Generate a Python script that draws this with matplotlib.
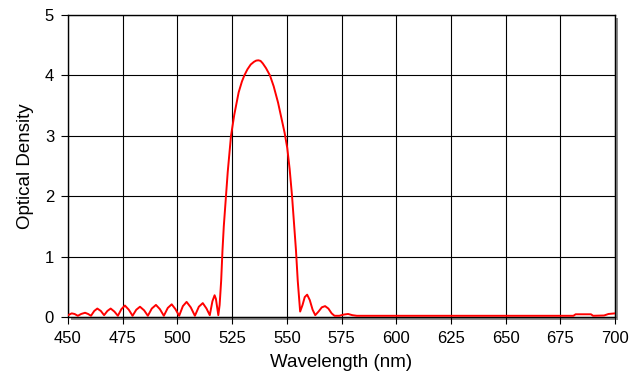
import matplotlib
matplotlib.use("Agg")
import matplotlib.pyplot as plt
from matplotlib.patches import Rectangle
from matplotlib.transforms import ScaledTranslation

plt.rcParams['font.family'] = ['Liberation Sans', 'DejaVu Sans']

# spectrum (nm, optical density)
wavelength = [450, 451.7, 453, 454.5, 456, 457.8, 459.2, 460.5, 462, 463.4,
              465, 466.5, 468, 469.5, 471.2, 472.8, 474.4, 476.0, 477.8, 479.5,
              481.2, 482.9, 484.8, 486.5, 488.3, 490.2, 492.0, 493.8, 495.6, 497.4,
              499.1, 500.8, 502.5, 504.2, 506.1, 508.0, 509.8, 511.6, 513.3, 514.8,
              516.0, 517.0, 517.6, 518.7, 519.3, 520.0, 520.6, 521.2, 522.0, 523.0,
              524.5, 526, 528, 529.5, 530.6, 532, 533.5, 535, 536, 537,
              538, 539, 540.5, 542.3, 544, 546, 547.5, 549, 550.2, 551.3,
              552.4, 553.4, 554.2, 555.0, 556.1,
              557.2, 558.2, 559.3, 560.5, 561.8, 563.0, 564.5, 566.0, 567.5, 569,
              570.5, 571.8, 574, 576, 578, 580, 582, 600, 620, 640,
              660, 681, 682, 689, 690, 695, 697, 700]
optical_density = [0.03, 0.06, 0.05, 0.02, 0.05, 0.07, 0.05, 0.02, 0.10, 0.14,
                   0.10, 0.03, 0.10, 0.14, 0.09, 0.02, 0.13, 0.19, 0.12, 0.02,
                   0.12, 0.17, 0.11, 0.02, 0.14, 0.20, 0.13, 0.02, 0.15, 0.21,
                   0.13, 0.02, 0.18, 0.25, 0.16, 0.02, 0.17, 0.23, 0.14, 0.03,
                   0.26, 0.36, 0.30, 0.03, 0.20, 0.60, 1.10, 1.50, 1.90, 2.40,
                   3.00, 3.35, 3.72, 3.90, 4.00, 4.10, 4.18, 4.225, 4.245, 4.25,
                   4.24, 4.20, 4.12, 4.00, 3.82, 3.55, 3.30, 3.05, 2.80, 2.45,
                   2.00, 1.50, 1.10, 0.60, 0.09,
                   0.20, 0.33, 0.37, 0.28, 0.12, 0.03, 0.09, 0.16, 0.18, 0.14,
                   0.06, 0.02, 0.02, 0.04, 0.05, 0.03, 0.02, 0.02, 0.02, 0.02,
                   0.02, 0.02, 0.045, 0.045, 0.02, 0.025, 0.05, 0.06]

x_ticks = list(range(450, 701, 25))
y_ticks = [0, 1, 2, 3, 4, 5]

fig = plt.figure(figsize=(6.38, 3.86), dpi=100)
ax = fig.add_axes([68 / 638, 1 - 317 / 386, (615 - 68) / 638, (317 - 15) / 386])

# grey drop shadow behind the plot frame
shadow = Rectangle((0, 0), 1, 1, facecolor='#8c8c8c', edgecolor='none', zorder=-1,
                   transform=ax.transAxes + ScaledTranslation(3 / 100, -3 / 100, fig.dpi_scale_trans))
fig.add_artist(shadow)

ax.plot(wavelength, optical_density, color='red', lw=1.4, zorder=3)

ax.set_xlim(450, 700)
ax.set_ylim(0, 5)
ax.set_xticks(x_ticks)
ax.set_yticks(y_ticks)
ax.grid(True, color='black', lw=0.8)
ax.set_axisbelow(True)
ax.tick_params(direction='out', length=5, width=0.8, labelsize=12, pad=5, color='black')
for s in ax.spines.values():
    s.set_color('black')
    s.set_linewidth(1)
ax.set_xlabel('Wavelength (nm)', fontsize=13.5, labelpad=6)
ax.set_ylabel('Optical Density', fontsize=13.5, labelpad=8)

fig.savefig('out.png', dpi=100)
